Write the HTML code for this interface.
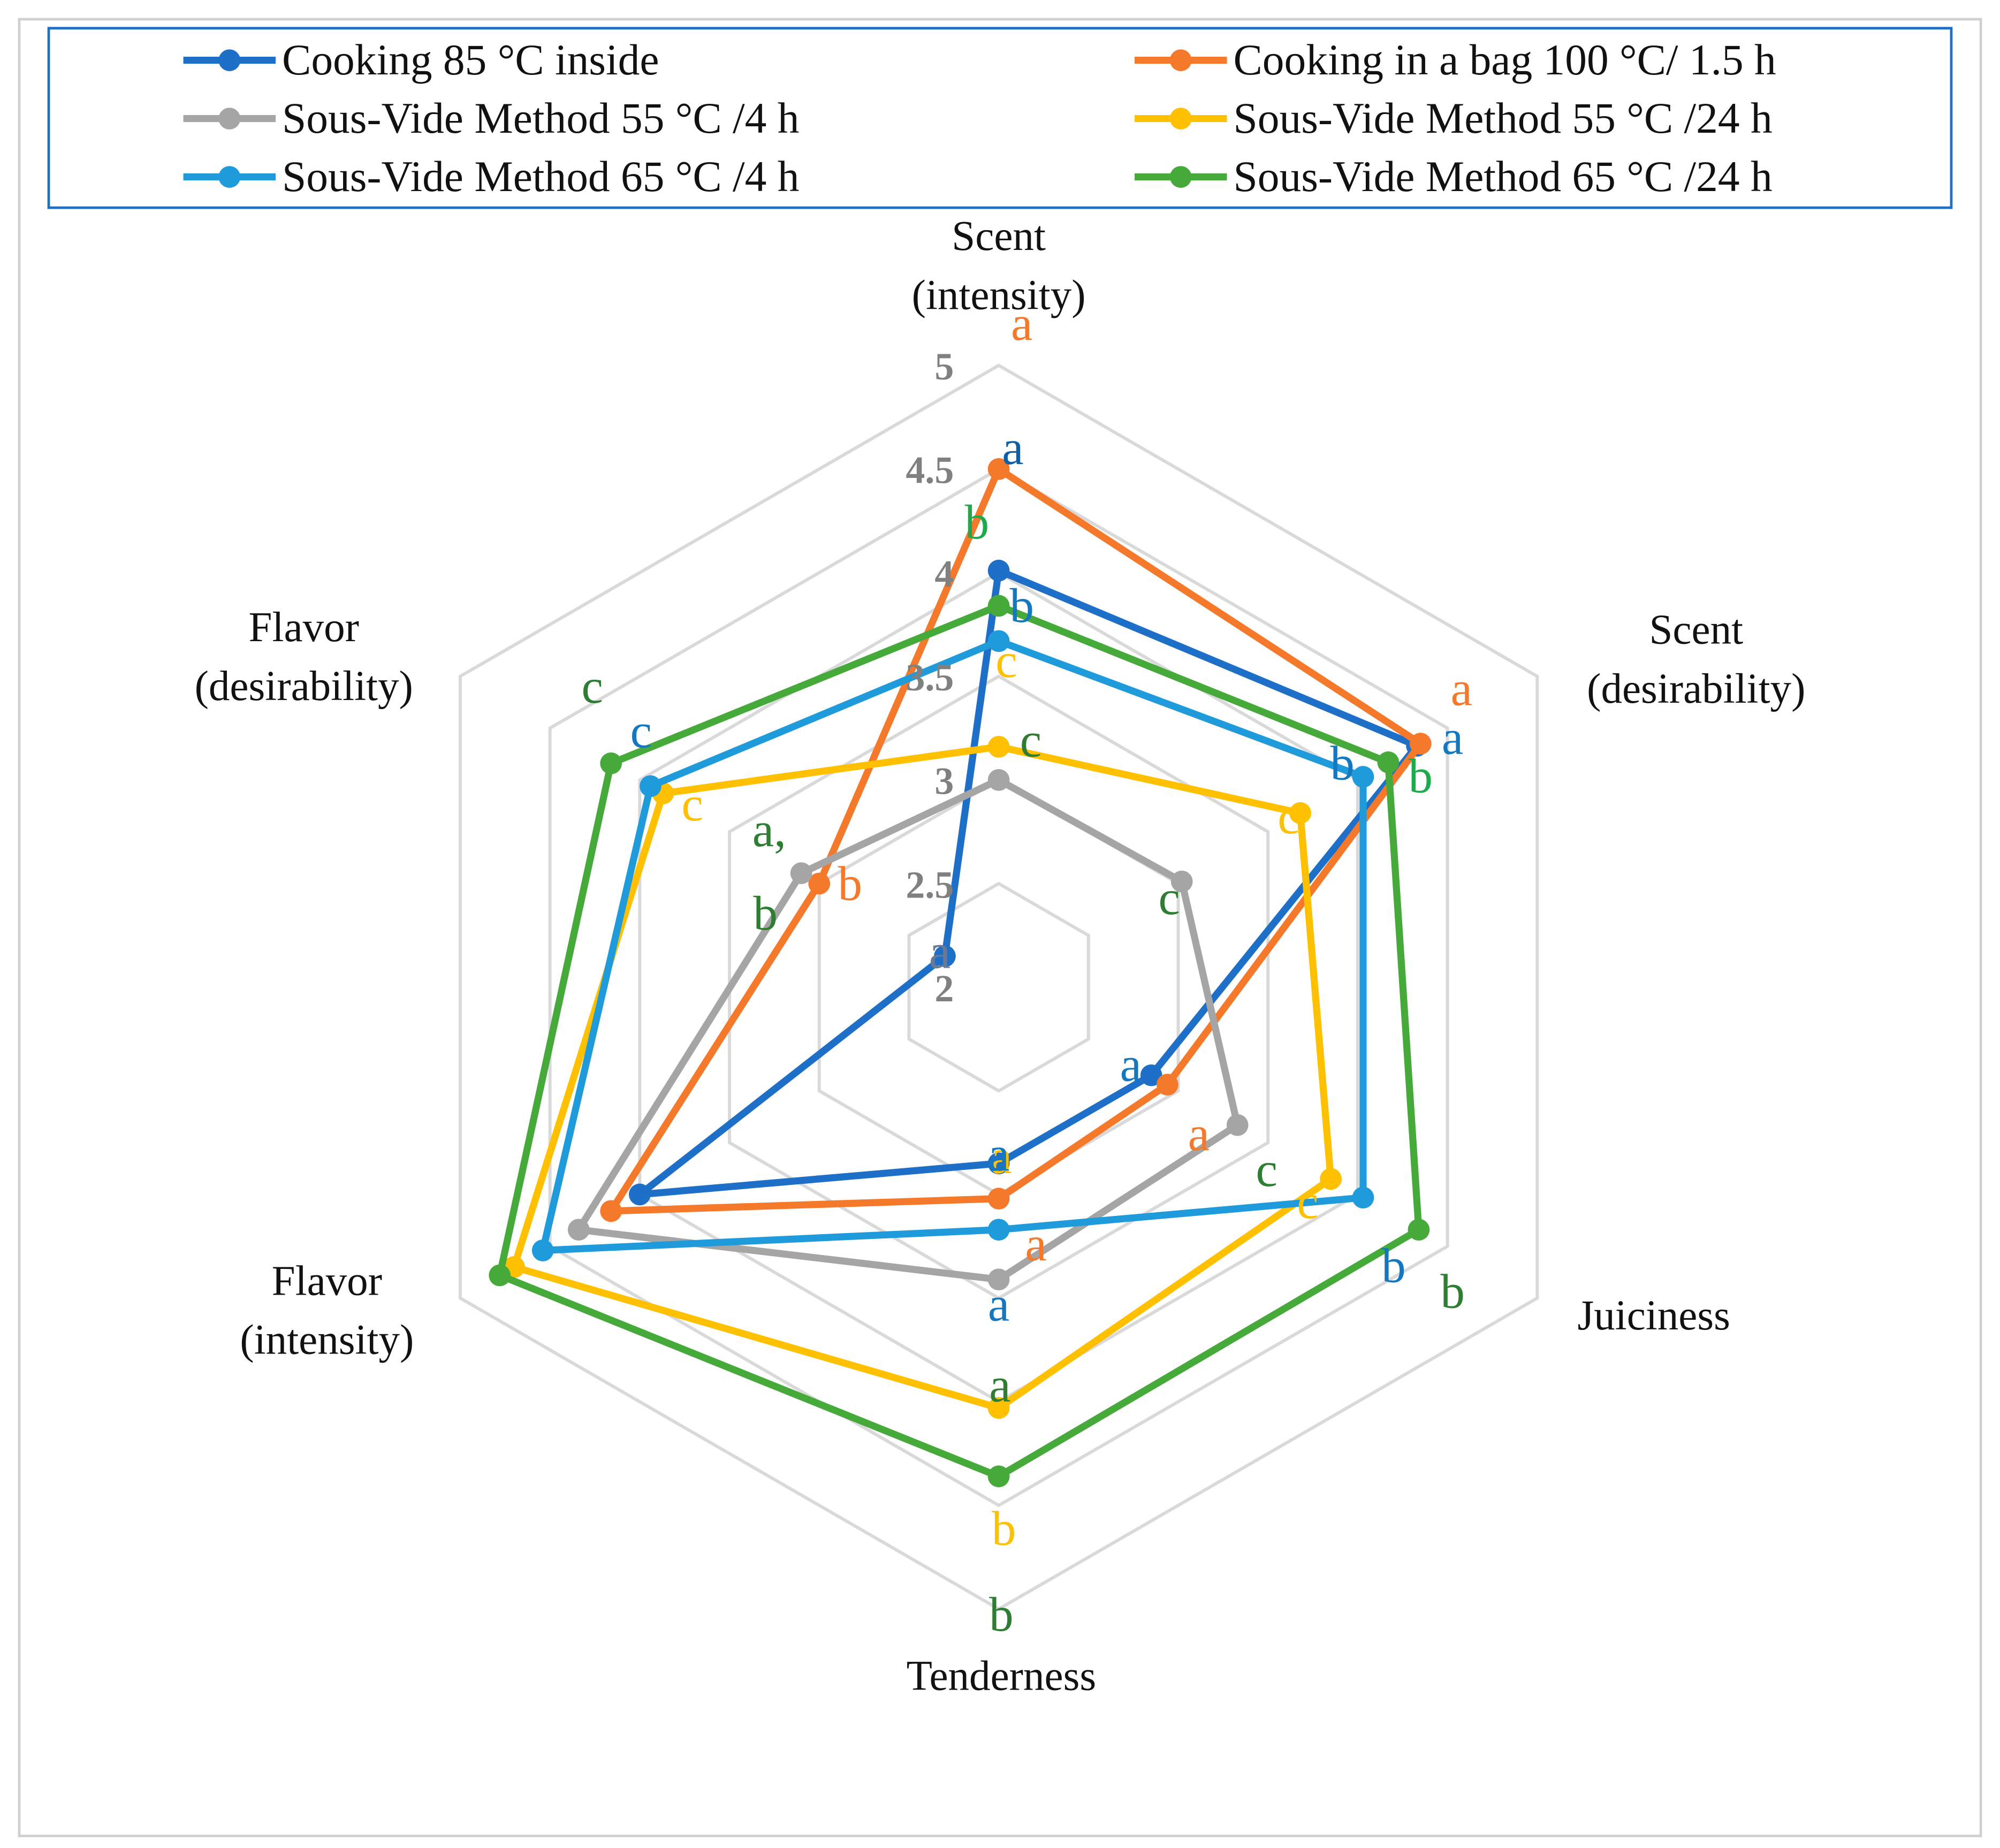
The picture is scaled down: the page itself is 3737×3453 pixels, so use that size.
<!DOCTYPE html>
<html><head><meta charset="utf-8">
<style>
html,body{margin:0;padding:0;background:#fff;}
svg{display:block;}
text{font-family:"Liberation Serif",serif;}
</style></head>
<body>
<svg id="chart" width="3737" height="3453" viewBox="0 0 1560 1441.4" preserveAspectRatio="none" xmlns="http://www.w3.org/2000/svg">
<rect x="15" y="15" width="1530" height="1417" fill="#fff" stroke="#d0d0d0" stroke-width="2"/>
<g id="grid"></g>
<g id="series"></g>
<g id="ticks"></g>
<g id="cats"></g>
<g id="letters"></g>
<g id="legend"></g>
</svg>
<script>
const categories = [["Scent","(intensity)"],["Scent","(desirability)"],["Juiciness"],["Tenderness"],["Flavor","(intensity)"],["Flavor","(desirability)"]];
const seriesNames = ["Cooking 85 °C inside","Cooking in a bag 100 °C/ 1.5 h","Sous-Vide Method 55 °C /4 h","Sous-Vide Method 55 °C /24 h","Sous-Vide Method 65 °C /4 h","Sous-Vide Method 65 °C /24 h"];
const seriesColors = ["#1E6FC8","#F5792A","#A5A5A5","#FFC000","#1F9BDB","#45AA3A"];
const valsCooking85 = [4.01,4.33,2.85,2.85,4.0,2.3];
const valsBag100 = [4.5,4.35,2.94,3.02,4.16,3.0];
const valsSV55_4 = [3.0,3.02,3.33,3.41,4.34,3.1];
const valsSV55_24 = [3.16,3.68,3.85,4.03,4.7,3.87];
const valsSV65_4 = [3.67,4.03,4.03,3.17,4.54,3.94];
const valsSV65_24 = [3.84,4.17,4.34,4.36,4.78,4.16];
const tickLabels = ["2","2.5","3","3.5","4","4.5","5"];
const tickValues = [2,2.5,3,3.5,4,4.5,5];
const axisMin = 2, axisMax = 5;

const NS="http://www.w3.org/2000/svg";
const cx=779, cy=770, R=485;
function rScale(v){return (v-axisMin)/(axisMax-axisMin)*R;}
function pt(i,v){const a=-Math.PI/2+i*Math.PI/3;const r=rScale(v);return [cx+r*Math.cos(a),cy+r*Math.sin(a)];}
function mk(tag,attrs,parent){const e=document.createElementNS(NS,tag);for(const k in attrs)e.setAttribute(k,attrs[k]);parent.appendChild(e);return e;}

const grid=document.getElementById('grid');
tickValues.forEach((tv,ti)=>{
  if(tv===axisMin)return;
  const pts=categories.map((c,i)=>pt(i,tv).join(',')).join(' ');
  const g=mk('polygon',{points:pts,fill:'none',stroke:'#d9d9d9','stroke-width':2.5},grid);
  
  
});

const allVals=[valsCooking85,valsBag100,valsSV55_4,valsSV55_24,valsSV65_4,valsSV65_24];
const sg=document.getElementById('series');
allVals.forEach((vals,si)=>{
  const g=mk('g',{},sg);
  
  
  const pts=vals.map((v,i)=>pt(i,v).join(',')).join(' ');
  const pl=mk('polygon',{points:pts,fill:'none',stroke:seriesColors[si],'stroke-width':5.5,'stroke-linejoin':'round'},g);
  
  
  vals.forEach((v,i)=>{
    const p=pt(i,v);
    const c=mk('circle',{cx:p[0],cy:p[1],r:8.5,fill:seriesColors[si]},g);
    
    
  });
});

const tg=document.getElementById('ticks');
tickLabels.forEach((t,i)=>{
  const y=cy-rScale(tickValues[i])+11;
  const e=mk('text',{x:744,y:y,'text-anchor':'end','font-size':30,'font-weight':'bold',fill:'#808080'},tg);
  e.textContent=t;
  
  
});

const catPos=[[779,195],[1323,502],[1290,1037],[781,1318],[255,1010],[237,500]];
const cg=document.getElementById('cats');
categories.forEach((c,i)=>{
  c.forEach((line,li)=>{
    const e=mk('text',{x:catPos[i][0],y:catPos[i][1]+li*46,'text-anchor':'middle','font-size':33,fill:'#111'},cg);
    e.textContent=line;
    
    
  });
});

const letters=[
 ["a",797,265,"#F5792A"],["a",790,362,"#0F5FA8"],["b",762,420,"#1DAA4A"],["b",797,485,"#1478C0"],["c",785,528,"#FFC000"],["c",804,590,"#2E7D32"],["a",733,755,"#6A7A95"],
 ["a",1140,550,"#F5792A"],["a",1133,588,"#1478C0"],["b",1047,608,"#1478C0"],["b",1108,618,"#1DAA4A"],["c",1005,650,"#FFC000"],["c",912,713,"#2E7D32"],
 ["a",882,843,"#1478C0"],["a",935,897,"#F5792A"],["c",988,925,"#2E7D32"],["c",1020,950,"#FFC000"],["b",1087,1000,"#1478C0"],["b",1133,1020,"#2E7D32"],
 ["a",781,915,"#FFC000"],["a",779,913,"#1478C0"],["a",808,983,"#F5792A"],["a",779,1030,"#1478C0"],["a",780,1093,"#2E7D32"],["b",783,1205,"#FFC000"],["b",781,1272,"#2E7D32"],
 ["c",462,548,"#2E7D32"],["c",500,583,"#1478C0"],["c",540,640,"#FFC000"],["a,",600,660,"#2E7D32"],["b",663,702,"#F5792A"],["b",597,725,"#2E7D32"]
];
const lg=document.getElementById('letters');
letters.forEach((L,i)=>{
  const e=mk('text',{x:L[1],y:L[2],'text-anchor':'middle','font-size':38,fill:L[3]},lg);
  e.textContent=L[0];
  
  
});

const leg=document.getElementById('legend');
const box=mk('rect',{x:38,y:22,width:1484,height:140,fill:'#fff',stroke:'#1E6FC8','stroke-width':2},leg);


seriesNames.forEach((n,i)=>{
  const col=i%2, row=Math.floor(i/2);
  const x0=col?885:143, y=47+row*45.5;
  const g=mk('g',{},leg);
  
  
  mk('line',{x1:x0,y1:y,x2:x0+72,y2:y,stroke:seriesColors[i],'stroke-width':5.5},g);
  mk('circle',{cx:x0+36,cy:y,r:8.5,fill:seriesColors[i]},g);
  const t=mk('text',{x:x0+77,y:y+11,'font-size':34,fill:'#111'},g);
  t.textContent=n;
});
</script>
</body></html>
